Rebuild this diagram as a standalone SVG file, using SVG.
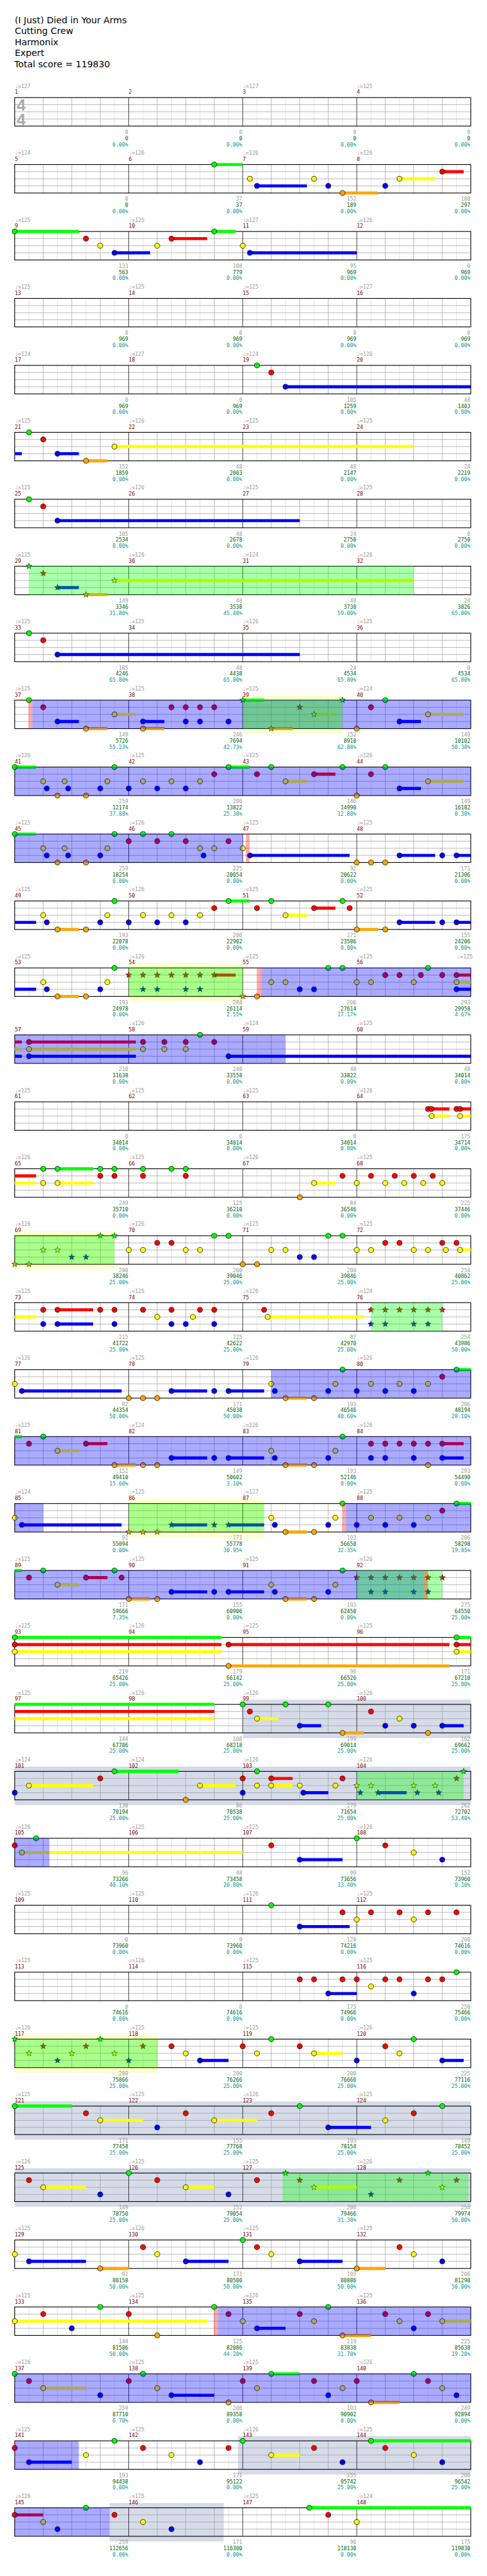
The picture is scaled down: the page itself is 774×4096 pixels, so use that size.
<svg xmlns="http://www.w3.org/2000/svg" width="774" height="4096" viewBox="0 0 774 4096">
<style>
text{font-family:"DejaVu Sans Mono",monospace;font-size:11px}
.t{fill:#999}.m{fill:#800000}
.s{fill:#999;text-anchor:end}.c{fill:#006400;text-anchor:end}.p{fill:#009999;text-anchor:end}
.ti{font-family:"DejaVu Sans",sans-serif;font-size:19px;fill:#000}
.ts{font-family:"Liberation Sans",sans-serif;font-weight:bold;font-size:34px;fill:#aaa}
.sg,.sr,.sy,.sb,.so{fill:none;stroke-width:6.5}
.sg{stroke:#0f0}.sr{stroke:#f00}.sy{stroke:#ff0}.sb{stroke:#00f}.so{stroke:#ffa500}
.od{fill:#00f;fill-opacity:.333}.sp{fill:#0f0;fill-opacity:.333}.pk{fill:#f00;fill-opacity:.333}
.yw{fill:#ffffcc}.gb{fill:#d5dbe8}
</style>
<defs>
<g id="grid">
<path fill="none" stroke="#ddd" d="M30 0V60M90 0V60M150 0V60M210 0V60M270 0V60M330 0V60M390 0V60M450 0V60M510 0V60M570 0V60M630 0V60M690 0V60M750 0V60M810 0V60M870 0V60M930 0V60"/>
<path fill="none" stroke="#a0a0a0" d="M0 15H960M0 30H960M0 45H960M60 0V60M120 0V60M180 0V60M300 0V60M360 0V60M420 0V60M540 0V60M600 0V60M660 0V60M780 0V60M840 0V60M900 0V60"/>
<path fill="none" stroke="#000" d="M240 0V60M480 0V60M720 0V60"/>
<rect width="960" height="60" fill="none" stroke="#000" stroke-width="1.5"/>
</g>
<circle id="G" r="5.3" cy="0" fill="#0f0" stroke="#000"/>
<circle id="R" r="5.3" cy="15" fill="#f00" stroke="#000"/>
<circle id="Y" r="5.3" cy="30" fill="#ff0" stroke="#000"/>
<circle id="B" r="5.3" cy="45" fill="#00f" stroke="#000"/>
<circle id="O" r="5.3" cy="60" fill="#ffa500" stroke="#000"/>
<polygon id="xG" transform="translate(0,0)" fill="#0f0" stroke="#000" stroke-width="0.8" points="0,-6.5 1.59,-2.18 6.18,-2.01 2.57,0.83 3.82,5.26 0,2.7 -3.82,5.26 -2.57,0.83 -6.18,-2.01 -1.59,-2.18"/>
<polygon id="xR" transform="translate(0,15)" fill="#f00" stroke="#000" stroke-width="0.8" points="0,-6.5 1.59,-2.18 6.18,-2.01 2.57,0.83 3.82,5.26 0,2.7 -3.82,5.26 -2.57,0.83 -6.18,-2.01 -1.59,-2.18"/>
<polygon id="xY" transform="translate(0,30)" fill="#ff0" stroke="#000" stroke-width="0.8" points="0,-6.5 1.59,-2.18 6.18,-2.01 2.57,0.83 3.82,5.26 0,2.7 -3.82,5.26 -2.57,0.83 -6.18,-2.01 -1.59,-2.18"/>
<polygon id="xB" transform="translate(0,45)" fill="#00f" stroke="#000" stroke-width="0.8" points="0,-6.5 1.59,-2.18 6.18,-2.01 2.57,0.83 3.82,5.26 0,2.7 -3.82,5.26 -2.57,0.83 -6.18,-2.01 -1.59,-2.18"/>
<polygon id="xO" transform="translate(0,60)" fill="#ffa500" stroke="#000" stroke-width="0.8" points="0,-6.5 1.59,-2.18 6.18,-2.01 2.57,0.83 3.82,5.26 0,2.7 -3.82,5.26 -2.57,0.83 -6.18,-2.01 -1.59,-2.18"/>
</defs>
<rect width="774" height="4096" fill="#fff"/>
<g transform="scale(0.755)">
<g id="title">
<text class="ti" x="31" y="49.3">(I Just) Died in Your Arms</text>
<text class="ti" x="31" y="72">Cutting Crew</text>
<text class="ti" x="31" y="95">Harmonix</text>
<text class="ti" x="31" y="118.3">Expert</text>
<text class="ti" x="30" y="141.6">Total score = 119830</text>
</g>

<g id="r1" transform="translate(31,205.5)">
<use href="#grid"/>
<text class="ts" x="4" y="27.8">4</text><text class="ts" x="4" y="57.8">4</text>
<text class="t" y="-20.5"><tspan x="0">♩=127</tspan><tspan x="480">♩=127</tspan><tspan x="720">♩=125</tspan></text>
<text class="m" y="-7.5"><tspan x="0">1</tspan><tspan x="240">2</tspan><tspan x="480">3</tspan><tspan x="720">4</tspan></text>
<text class="s" y="76.5"><tspan x="239">0</tspan><tspan x="479">0</tspan><tspan x="719">0</tspan><tspan x="959">0</tspan></text>
<text class="c" y="89.5"><tspan x="239">0</tspan><tspan x="479">0</tspan><tspan x="719">0</tspan><tspan x="959">0</tspan></text>
<text class="p" y="102.5"><tspan x="239">0.00%</tspan><tspan x="479">0.00%</tspan><tspan x="719">0.00%</tspan><tspan x="959">0.00%</tspan></text>
</g>

<g id="r2" transform="translate(31,346.5)">
<use href="#grid"/>
<path class="sg" d="M420 0H480"/><path class="sb" d="M510 45H615"/><path class="so" d="M690 60H765"/><path class="sy" d="M810 30H885"/><path class="sr" d="M900 15H945"/>
<use href="#G" x="420"/><use href="#Y" x="495"/><use href="#B" x="510"/><use href="#Y" x="630"/><use href="#B" x="660"/><use href="#O" x="690"/><use href="#B" x="780"/><use href="#Y" x="810"/><use href="#R" x="900"/>
<text class="t" y="-20.5"><tspan x="0">♩=124</tspan><tspan x="240">♩=126</tspan><tspan x="480">♩=126</tspan><tspan x="720">♩=126</tspan></text>
<text class="m" y="-7.5"><tspan x="0">5</tspan><tspan x="240">6</tspan><tspan x="480">7</tspan><tspan x="720">8</tspan></text>
<text class="s" y="76.5"><tspan x="239">0</tspan><tspan x="479">37</tspan><tspan x="719">152</tspan><tspan x="959">108</tspan></text>
<text class="c" y="89.5"><tspan x="239">0</tspan><tspan x="479">37</tspan><tspan x="719">189</tspan><tspan x="959">297</tspan></text>
<text class="p" y="102.5"><tspan x="239">0.00%</tspan><tspan x="479">0.00%</tspan><tspan x="719">0.00%</tspan><tspan x="959">0.00%</tspan></text>
</g>

<g id="r3" transform="translate(31,487.5)">
<use href="#grid"/>
<path class="sg" d="M0 0H135M420 0H465"/><path class="sb" d="M210 45H285M495 45H720"/><path class="sr" d="M330 15H405"/>
<use href="#G" x="0"/><use href="#R" x="150"/><use href="#Y" x="180"/><use href="#B" x="210"/><use href="#Y" x="300"/><use href="#R" x="330"/><use href="#G" x="420"/><use href="#Y" x="480"/><use href="#B" x="495"/>
<text class="t" y="-20.5"><tspan x="0">♩=125</tspan><tspan x="240">♩=125</tspan><tspan x="480">♩=127</tspan><tspan x="720">♩=126</tspan></text>
<text class="m" y="-7.5"><tspan x="0">9</tspan><tspan x="240">10</tspan><tspan x="480">11</tspan><tspan x="720">12</tspan></text>
<text class="s" y="76.5"><tspan x="239">133</tspan><tspan x="479">108</tspan><tspan x="719">95</tspan><tspan x="959">0</tspan></text>
<text class="c" y="89.5"><tspan x="239">563</tspan><tspan x="479">779</tspan><tspan x="719">969</tspan><tspan x="959">969</tspan></text>
<text class="p" y="102.5"><tspan x="239">0.00%</tspan><tspan x="479">0.00%</tspan><tspan x="719">0.00%</tspan><tspan x="959">0.00%</tspan></text>
</g>

<g id="r4" transform="translate(31,628.5)">
<use href="#grid"/>
<text class="t" y="-20.5"><tspan x="0">♩=125</tspan><tspan x="240">♩=125</tspan><tspan x="480">♩=125</tspan><tspan x="720">♩=127</tspan></text>
<text class="m" y="-7.5"><tspan x="0">13</tspan><tspan x="240">14</tspan><tspan x="480">15</tspan><tspan x="720">16</tspan></text>
<text class="s" y="76.5"><tspan x="239">0</tspan><tspan x="479">0</tspan><tspan x="719">0</tspan><tspan x="959">0</tspan></text>
<text class="c" y="89.5"><tspan x="239">969</tspan><tspan x="479">969</tspan><tspan x="719">969</tspan><tspan x="959">969</tspan></text>
<text class="p" y="102.5"><tspan x="239">0.00%</tspan><tspan x="479">0.00%</tspan><tspan x="719">0.00%</tspan><tspan x="959">0.00%</tspan></text>
</g>

<g id="r5" transform="translate(31,769.5)">
<use href="#grid"/>
<path class="sb" d="M570 45H960"/>
<use href="#G" x="510"/><use href="#R" x="540"/><use href="#B" x="570"/>
<text class="t" y="-20.5"><tspan x="0">♩=124</tspan><tspan x="240">♩=127</tspan><tspan x="480">♩=124</tspan><tspan x="720">♩=126</tspan></text>
<text class="m" y="-7.5"><tspan x="0">17</tspan><tspan x="240">18</tspan><tspan x="480">19</tspan><tspan x="720">20</tspan></text>
<text class="s" y="76.5"><tspan x="239">0</tspan><tspan x="479">0</tspan><tspan x="719">105</tspan><tspan x="959">48</tspan></text>
<text class="c" y="89.5"><tspan x="239">969</tspan><tspan x="479">969</tspan><tspan x="719">1259</tspan><tspan x="959">1403</tspan></text>
<text class="p" y="102.5"><tspan x="239">0.00%</tspan><tspan x="479">0.00%</tspan><tspan x="719">0.00%</tspan><tspan x="959">0.00%</tspan></text>
</g>

<g id="r6" transform="translate(31,910.5)">
<use href="#grid"/>
<path class="sb" d="M0 45H15M90 45H135"/><path class="so" d="M150 60H195"/><path class="sy" d="M210 30H840"/>
<use href="#G" x="30"/><use href="#R" x="60"/><use href="#B" x="90"/><use href="#O" x="150"/><use href="#Y" x="210"/>
<text class="t" y="-20.5"><tspan x="0">♩=125</tspan><tspan x="240">♩=126</tspan><tspan x="480">♩=125</tspan><tspan x="720">♩=125</tspan></text>
<text class="m" y="-7.5"><tspan x="0">21</tspan><tspan x="240">22</tspan><tspan x="480">23</tspan><tspan x="720">24</tspan></text>
<text class="s" y="76.5"><tspan x="239">152</tspan><tspan x="479">48</tspan><tspan x="719">48</tspan><tspan x="959">24</tspan></text>
<text class="c" y="89.5"><tspan x="239">1859</tspan><tspan x="479">2003</tspan><tspan x="719">2147</tspan><tspan x="959">2219</tspan></text>
<text class="p" y="102.5"><tspan x="239">0.00%</tspan><tspan x="479">0.00%</tspan><tspan x="719">0.00%</tspan><tspan x="959">0.00%</tspan></text>
</g>

<g id="r7" transform="translate(31,1051.5)">
<use href="#grid"/>
<path class="sb" d="M90 45H600"/>
<use href="#G" x="30"/><use href="#R" x="60"/><use href="#B" x="90"/>
<text class="t" y="-20.5"><tspan x="0">♩=125</tspan><tspan x="240">♩=126</tspan><tspan x="480">♩=125</tspan><tspan x="720">♩=125</tspan></text>
<text class="m" y="-7.5"><tspan x="0">25</tspan><tspan x="240">26</tspan><tspan x="480">27</tspan><tspan x="720">28</tspan></text>
<text class="s" y="76.5"><tspan x="239">105</tspan><tspan x="479">48</tspan><tspan x="719">24</tspan><tspan x="959">0</tspan></text>
<text class="c" y="89.5"><tspan x="239">2534</tspan><tspan x="479">2678</tspan><tspan x="719">2750</tspan><tspan x="959">2750</tspan></text>
<text class="p" y="102.5"><tspan x="239">0.00%</tspan><tspan x="479">0.00%</tspan><tspan x="719">0.00%</tspan><tspan x="959">0.00%</tspan></text>
</g>

<g id="r8" transform="translate(31,1192.5)">
<use href="#grid"/>
<path class="sb" d="M90 45H135"/><path class="so" d="M150 60H195"/><path class="sy" d="M210 30H840"/>
<use href="#xG" x="30"/><use href="#xR" x="60"/><use href="#xB" x="90"/><use href="#xO" x="150"/><use href="#xY" x="210"/>
<rect class="sp" x="30" width="810" height="60"/>
<text class="t" y="-20.5"><tspan x="0">♩=125</tspan><tspan x="240">♩=126</tspan><tspan x="480">♩=124</tspan><tspan x="720">♩=126</tspan></text>
<text class="m" y="-7.5"><tspan x="0">29</tspan><tspan x="240">30</tspan><tspan x="480">31</tspan><tspan x="720">32</tspan></text>
<text class="s" y="76.5"><tspan x="239">149</tspan><tspan x="479">48</tspan><tspan x="719">48</tspan><tspan x="959">24</tspan></text>
<text class="c" y="89.5"><tspan x="239">3346</tspan><tspan x="479">3538</tspan><tspan x="719">3730</tspan><tspan x="959">3826</tspan></text>
<text class="p" y="102.5"><tspan x="239">31.80%</tspan><tspan x="479">45.40%</tspan><tspan x="719">59.00%</tspan><tspan x="959">65.80%</tspan></text>
</g>

<g id="r9" transform="translate(31,1333.5)">
<use href="#grid"/>
<path class="sb" d="M90 45H600"/>
<use href="#G" x="30"/><use href="#R" x="60"/><use href="#B" x="90"/>
<text class="t" y="-20.5"><tspan x="0">♩=125</tspan><tspan x="240">♩=125</tspan><tspan x="480">♩=126</tspan><tspan x="720">♩=125</tspan></text>
<text class="m" y="-7.5"><tspan x="0">33</tspan><tspan x="240">34</tspan><tspan x="480">35</tspan><tspan x="720">36</tspan></text>
<text class="s" y="76.5"><tspan x="239">105</tspan><tspan x="479">48</tspan><tspan x="719">24</tspan><tspan x="959">0</tspan></text>
<text class="c" y="89.5"><tspan x="239">4246</tspan><tspan x="479">4438</tspan><tspan x="719">4534</tspan><tspan x="959">4534</tspan></text>
<text class="p" y="102.5"><tspan x="239">65.80%</tspan><tspan x="479">65.80%</tspan><tspan x="719">65.80%</tspan><tspan x="959">65.80%</tspan></text>
</g>

<g id="r10" transform="translate(31,1474.5)">
<rect class="yw" x="480" y="-10" width="210" height="81"/>
<use href="#grid"/>
<path class="sb" d="M90 45H135M270 45H315M810 45H855"/><path class="so" d="M150 60H195M270 60H315M540 60H585"/><path class="sy" d="M210 30H255M630 30H675M870 30H945"/><path class="sg" d="M480 0H525"/>
<use href="#G" x="30"/><use href="#R" x="60"/><use href="#B" x="90"/><use href="#O" x="150"/><use href="#Y" x="210"/><use href="#B" x="270"/><use href="#O" x="270"/><use href="#R" x="330"/><use href="#R" x="360"/><use href="#B" x="360"/><use href="#R" x="390"/><use href="#B" x="390"/><use href="#R" x="420"/><use href="#B" x="450"/><use href="#xG" x="480"/><use href="#xO" x="540"/><use href="#xR" x="600"/><use href="#xY" x="630"/><use href="#xG" x="690"/><use href="#O" x="720"/><use href="#R" x="750"/><use href="#G" x="780"/><use href="#B" x="810"/><use href="#Y" x="870"/>
<rect class="pk" x="29" width="8" height="60"/><rect class="od" x="37" width="923" height="60"/><rect class="sp" x="480" width="210" height="60"/>
<text class="t" y="-20.5"><tspan x="0">♩=125</tspan><tspan x="240">♩=125</tspan><tspan x="480">♩=125</tspan><tspan x="720">♩=124</tspan></text>
<text class="m" y="-7.5"><tspan x="0">37</tspan><tspan x="240">38</tspan><tspan x="480">39</tspan><tspan x="720">40</tspan></text>
<text class="s" y="76.5"><tspan x="239">149</tspan><tspan x="479">246</tspan><tspan x="719">152</tspan><tspan x="959">149</tspan></text>
<text class="c" y="89.5"><tspan x="239">5726</tspan><tspan x="479">7694</tspan><tspan x="719">8910</tspan><tspan x="959">10102</tspan></text>
<text class="p" y="102.5"><tspan x="239">55.23%</tspan><tspan x="479">42.73%</tspan><tspan x="719">62.88%</tspan><tspan x="959">50.38%</tspan></text>
</g>

<g id="r11" transform="translate(31,1615.5)">
<use href="#grid"/>
<path class="sg" d="M0 0H45M450 0H495"/><path class="sy" d="M570 30H615M870 30H945"/><path class="sr" d="M630 15H675"/><path class="sb" d="M810 45H855"/>
<use href="#G" x="0"/><use href="#Y" x="60"/><use href="#B" x="67.5"/><use href="#O" x="90"/><use href="#Y" x="105"/><use href="#B" x="112.5"/><use href="#O" x="150"/><use href="#B" x="180"/><use href="#Y" x="195"/><use href="#G" x="210"/><use href="#B" x="240"/><use href="#Y" x="270"/><use href="#B" x="300"/><use href="#Y" x="330"/><use href="#B" x="360"/><use href="#Y" x="390"/><use href="#R" x="420"/><use href="#G" x="450"/><use href="#R" x="510"/><use href="#G" x="540"/><use href="#Y" x="570"/><use href="#R" x="630"/><use href="#G" x="690"/><use href="#O" x="720"/><use href="#R" x="750"/><use href="#G" x="780"/><use href="#B" x="810"/><use href="#Y" x="870"/>
<rect class="od" width="960" height="60"/>
<text class="t" y="-20.5"><tspan x="0">♩=126</tspan><tspan x="240">♩=125</tspan><tspan x="480">♩=125</tspan><tspan x="720">♩=126</tspan></text>
<text class="m" y="-7.5"><tspan x="0">41</tspan><tspan x="240">42</tspan><tspan x="480">43</tspan><tspan x="720">44</tspan></text>
<text class="s" y="76.5"><tspan x="239">259</tspan><tspan x="479">206</tspan><tspan x="719">146</tspan><tspan x="959">149</tspan></text>
<text class="c" y="89.5"><tspan x="239">12174</tspan><tspan x="479">13822</tspan><tspan x="719">14990</tspan><tspan x="959">16182</tspan></text>
<text class="p" y="102.5"><tspan x="239">37.88%</tspan><tspan x="479">25.38%</tspan><tspan x="719">12.88%</tspan><tspan x="959">0.38%</tspan></text>
</g>

<g id="r12" transform="translate(31,1756.5)">
<use href="#grid"/>
<path class="sg" d="M0 0H45"/><path class="sb" d="M495 45H705M810 45H885M930 45H960"/>
<use href="#G" x="0"/><use href="#Y" x="60"/><use href="#B" x="67.5"/><use href="#O" x="90"/><use href="#Y" x="105"/><use href="#B" x="112.5"/><use href="#O" x="150"/><use href="#B" x="180"/><use href="#Y" x="195"/><use href="#G" x="210"/><use href="#R" x="240"/><use href="#G" x="270"/><use href="#R" x="300"/><use href="#G" x="330"/><use href="#R" x="360"/><use href="#Y" x="390"/><use href="#B" x="397.5"/><use href="#Y" x="420"/><use href="#R" x="450"/><use href="#Y" x="480"/><use href="#B" x="495"/><use href="#O" x="720"/><use href="#O" x="750"/><use href="#O" x="780"/><use href="#B" x="810"/><use href="#B" x="900"/><use href="#B" x="930"/>
<rect class="od" width="480" height="60"/><rect class="pk" x="486.5" width="8" height="60"/>
<text class="t" y="-20.5"><tspan x="0">♩=125</tspan><tspan x="240">♩=126</tspan><tspan x="480">♩=125</tspan><tspan x="720">♩=125</tspan></text>
<text class="m" y="-7.5"><tspan x="0">45</tspan><tspan x="240">46</tspan><tspan x="480">47</tspan><tspan x="720">48</tspan></text>
<text class="s" y="76.5"><tspan x="239">259</tspan><tspan x="479">225</tspan><tspan x="719">92</tspan><tspan x="959">171</tspan></text>
<text class="c" y="89.5"><tspan x="239">18254</tspan><tspan x="479">20054</tspan><tspan x="719">20622</tspan><tspan x="959">21306</tspan></text>
<text class="p" y="102.5"><tspan x="239">0.00%</tspan><tspan x="479">0.00%</tspan><tspan x="719">0.00%</tspan><tspan x="959">0.00%</tspan></text>
</g>

<g id="r13" transform="translate(31,1897.5)">
<use href="#grid"/>
<path class="sb" d="M0 45H45M810 45H885M930 45H960"/><path class="so" d="M90 60H135M720 60H765"/><path class="sg" d="M450 0H495"/><path class="sy" d="M570 30H615"/><path class="sr" d="M630 15H675"/>
<use href="#Y" x="60"/><use href="#B" x="67.5"/><use href="#O" x="90"/><use href="#O" x="150"/><use href="#B" x="180"/><use href="#Y" x="195"/><use href="#G" x="210"/><use href="#B" x="240"/><use href="#Y" x="270"/><use href="#B" x="300"/><use href="#Y" x="330"/><use href="#B" x="360"/><use href="#Y" x="390"/><use href="#R" x="420"/><use href="#G" x="450"/><use href="#R" x="510"/><use href="#G" x="540"/><use href="#Y" x="570"/><use href="#R" x="630"/><use href="#G" x="690"/><use href="#R" x="705"/><use href="#O" x="720"/><use href="#O" x="780"/><use href="#B" x="810"/><use href="#B" x="900"/><use href="#B" x="930"/>
<text class="t" y="-20.5"><tspan x="0">♩=125</tspan><tspan x="240">♩=126</tspan><tspan x="480">♩=125</tspan><tspan x="720">♩=125</tspan></text>
<text class="m" y="-7.5"><tspan x="0">49</tspan><tspan x="240">50</tspan><tspan x="480">51</tspan><tspan x="720">52</tspan></text>
<text class="s" y="76.5"><tspan x="239">193</tspan><tspan x="479">206</tspan><tspan x="719">171</tspan><tspan x="959">155</tspan></text>
<text class="c" y="89.5"><tspan x="239">22078</tspan><tspan x="479">22902</tspan><tspan x="719">23586</tspan><tspan x="959">24206</tspan></text>
<text class="p" y="102.5"><tspan x="239">0.00%</tspan><tspan x="479">0.00%</tspan><tspan x="719">0.00%</tspan><tspan x="959">0.00%</tspan></text>
</g>

<g id="r14" transform="translate(31,2038.5)">
<rect class="yw" x="240" y="-10" width="240" height="81"/>
<use href="#grid"/>
<path class="sb" d="M0 45H45M930 45H960"/><path class="so" d="M90 60H135"/><path class="sr" d="M420 15H465M930 15H960"/><path class="sy" d="M930 30H960"/>
<use href="#Y" x="60"/><use href="#B" x="67.5"/><use href="#O" x="90"/><use href="#O" x="150"/><use href="#B" x="180"/><use href="#Y" x="195"/><use href="#G" x="210"/><use href="#xR" x="240"/><use href="#xR" x="270"/><use href="#xB" x="270"/><use href="#xR" x="300"/><use href="#xB" x="300"/><use href="#xR" x="330"/><use href="#xR" x="360"/><use href="#xB" x="360"/><use href="#xR" x="390"/><use href="#xB" x="390"/><use href="#xR" x="420"/><use href="#xO" x="480"/><use href="#O" x="510"/><use href="#Y" x="540"/><use href="#Y" x="570"/><use href="#B" x="600"/><use href="#B" x="630"/><use href="#G" x="660"/><use href="#G" x="690"/><use href="#Y" x="720"/><use href="#Y" x="750"/><use href="#R" x="780"/><use href="#R" x="810"/><use href="#Y" x="840"/><use href="#R" x="855"/><use href="#G" x="870"/><use href="#R" x="900"/><use href="#R" x="930"/><use href="#Y" x="930"/><use href="#B" x="930"/>
<rect class="sp" x="240" width="240" height="60"/><rect class="pk" x="510" width="9" height="60"/><rect class="od" x="519" width="441" height="60"/>
<text class="t" y="-20.5"><tspan x="0">♩=125</tspan><tspan x="240">♩=126</tspan><tspan x="480">♩=125</tspan><tspan x="720">♩=125</tspan><tspan x="931">♩=125</tspan></text>
<text class="m" y="-7.5"><tspan x="0">53</tspan><tspan x="240">54</tspan><tspan x="480">55</tspan><tspan x="720">56</tspan></text>
<text class="s" y="76.5"><tspan x="239">193</tspan><tspan x="479">284</tspan><tspan x="719">200</tspan><tspan x="959">293</tspan></text>
<text class="c" y="89.5"><tspan x="239">24978</tspan><tspan x="479">26114</tspan><tspan x="719">27614</tspan><tspan x="959">29958</tspan></text>
<text class="p" y="102.5"><tspan x="239">0.00%</tspan><tspan x="479">2.55%</tspan><tspan x="719">17.17%</tspan><tspan x="959">4.67%</tspan></text>
</g>

<g id="r15" transform="translate(31,2179.5)">
<use href="#grid"/>
<path class="sr" d="M0 15H15M30 15H255"/><path class="sy" d="M0 30H15M30 30H255"/><path class="sb" d="M0 45H15M30 45H255M450 45H960"/>
<use href="#R" x="30"/><use href="#Y" x="30"/><use href="#B" x="30"/><use href="#R" x="270"/><use href="#Y" x="270"/><use href="#R" x="315"/><use href="#Y" x="315"/><use href="#R" x="360"/><use href="#Y" x="360"/><use href="#G" x="390"/><use href="#R" x="420"/><use href="#B" x="450"/>
<rect class="od" width="570" height="60"/>
<text class="t" y="-20.5"><tspan x="240">♩=126</tspan><tspan x="480">♩=124</tspan><tspan x="720">♩=125</tspan></text>
<text class="m" y="-7.5"><tspan x="0">57</tspan><tspan x="240">58</tspan><tspan x="480">59</tspan><tspan x="720">60</tspan></text>
<text class="s" y="76.5"><tspan x="239">210</tspan><tspan x="479">240</tspan><tspan x="719">48</tspan><tspan x="959">48</tspan></text>
<text class="c" y="89.5"><tspan x="239">31638</tspan><tspan x="479">33558</tspan><tspan x="719">33822</tspan><tspan x="959">34014</tspan></text>
<text class="p" y="102.5"><tspan x="239">0.00%</tspan><tspan x="479">0.00%</tspan><tspan x="719">0.00%</tspan><tspan x="959">0.00%</tspan></text>
</g>

<g id="r16" transform="translate(31,2320.5)">
<use href="#grid"/>
<path class="sr" d="M877.5 15H915M937.5 15H960"/><path class="sy" d="M877.5 30H915M937.5 30H960"/>
<use href="#R" x="870"/><use href="#R" x="877.5"/><use href="#Y" x="877.5"/><use href="#R" x="930"/><use href="#R" x="937.5"/><use href="#Y" x="937.5"/>
<text class="t" y="-20.5"><tspan x="0">♩=125</tspan><tspan x="240">♩=125</tspan><tspan x="480">♩=125</tspan><tspan x="720">♩=126</tspan></text>
<text class="m" y="-7.5"><tspan x="0">61</tspan><tspan x="240">62</tspan><tspan x="480">63</tspan><tspan x="720">64</tspan></text>
<text class="s" y="76.5"><tspan x="239">0</tspan><tspan x="479">0</tspan><tspan x="719">0</tspan><tspan x="959">175</tspan></text>
<text class="c" y="89.5"><tspan x="239">34014</tspan><tspan x="479">34014</tspan><tspan x="719">34014</tspan><tspan x="959">34714</tspan></text>
<text class="p" y="102.5"><tspan x="239">0.00%</tspan><tspan x="479">0.00%</tspan><tspan x="719">0.00%</tspan><tspan x="959">0.00%</tspan></text>
</g>

<g id="r17" transform="translate(31,2461.5)">
<use href="#grid"/>
<path class="sr" d="M0 15H45"/><path class="sy" d="M0 30H45M90 30H165M630 30H675"/><path class="sg" d="M90 0H165"/>
<use href="#G" x="60"/><use href="#Y" x="60"/><use href="#G" x="90"/><use href="#Y" x="90"/><use href="#G" x="180"/><use href="#R" x="180"/><use href="#G" x="210"/><use href="#R" x="210"/><use href="#G" x="270"/><use href="#R" x="270"/><use href="#G" x="330"/><use href="#G" x="360"/><use href="#R" x="360"/><use href="#O" x="600"/><use href="#Y" x="630"/><use href="#R" x="690"/><use href="#Y" x="720"/><use href="#R" x="750"/><use href="#Y" x="780"/><use href="#R" x="800"/><use href="#Y" x="820"/><use href="#R" x="840"/><use href="#Y" x="860"/><use href="#R" x="880"/><use href="#Y" x="900"/>
<text class="t" y="-20.5"><tspan x="0">♩=126</tspan><tspan x="240">♩=125</tspan><tspan x="480">♩=126</tspan><tspan x="720">♩=125</tspan></text>
<text class="m" y="-7.5"><tspan x="0">65</tspan><tspan x="240">66</tspan><tspan x="480">67</tspan><tspan x="720">68</tspan></text>
<text class="s" y="76.5"><tspan x="239">249</tspan><tspan x="479">125</tspan><tspan x="719">84</tspan><tspan x="959">225</tspan></text>
<text class="c" y="89.5"><tspan x="239">35710</tspan><tspan x="479">36210</tspan><tspan x="719">36546</tspan><tspan x="959">37446</tspan></text>
<text class="p" y="102.5"><tspan x="239">0.00%</tspan><tspan x="479">0.00%</tspan><tspan x="719">0.00%</tspan><tspan x="959">0.00%</tspan></text>
</g>

<g id="r18" transform="translate(31,2602.5)">
<rect class="yw" x="0" y="-10" width="210" height="81"/>
<use href="#grid"/>
<path class="sy" d="M937.5 30H960"/>
<use href="#xO" x="0"/><use href="#xO" x="30"/><use href="#xY" x="60"/><use href="#xY" x="90"/><use href="#xB" x="120"/><use href="#xB" x="150"/><use href="#xG" x="180"/><use href="#xG" x="210"/><use href="#Y" x="240"/><use href="#Y" x="270"/><use href="#R" x="300"/><use href="#R" x="330"/><use href="#Y" x="360"/><use href="#Y" x="390"/><use href="#G" x="420"/><use href="#G" x="450"/><use href="#O" x="480"/><use href="#O" x="510"/><use href="#Y" x="540"/><use href="#Y" x="570"/><use href="#B" x="600"/><use href="#B" x="630"/><use href="#G" x="660"/><use href="#G" x="690"/><use href="#Y" x="720"/><use href="#Y" x="750"/><use href="#R" x="780"/><use href="#R" x="810"/><use href="#Y" x="840"/><use href="#Y" x="870"/><use href="#R" x="900"/><use href="#Y" x="907.5"/><use href="#R" x="930"/><use href="#Y" x="937.5"/>
<rect class="sp" x="0" width="210" height="60"/>
<text class="t" y="-20.5"><tspan x="0">♩=126</tspan><tspan x="240">♩=126</tspan><tspan x="480">♩=125</tspan><tspan x="720">♩=125</tspan></text>
<text class="m" y="-7.5"><tspan x="0">69</tspan><tspan x="240">70</tspan><tspan x="480">71</tspan><tspan x="720">72</tspan></text>
<text class="s" y="76.5"><tspan x="239">200</tspan><tspan x="479">200</tspan><tspan x="719">200</tspan><tspan x="959">254</tspan></text>
<text class="c" y="89.5"><tspan x="239">38246</tspan><tspan x="479">39046</tspan><tspan x="719">39846</tspan><tspan x="959">40862</tspan></text>
<text class="p" y="102.5"><tspan x="239">25.00%</tspan><tspan x="479">25.00%</tspan><tspan x="719">25.00%</tspan><tspan x="959">25.00%</tspan></text>
</g>

<g id="r19" transform="translate(31,2743.5)">
<use href="#grid"/>
<path class="sy" d="M0 30H45M532.5 30H735"/><path class="sr" d="M90 15H165"/><path class="sb" d="M90 45H165"/>
<use href="#R" x="60"/><use href="#B" x="60"/><use href="#R" x="90"/><use href="#B" x="90"/><use href="#R" x="180"/><use href="#R" x="210"/><use href="#B" x="210"/><use href="#R" x="270"/><use href="#Y" x="300"/><use href="#R" x="330"/><use href="#B" x="330"/><use href="#B" x="360"/><use href="#Y" x="375"/><use href="#R" x="390"/><use href="#R" x="420"/><use href="#B" x="420"/><use href="#R" x="525"/><use href="#Y" x="532.5"/><use href="#xR" x="750"/><use href="#xB" x="750"/><use href="#xR" x="780"/><use href="#xB" x="780"/><use href="#xR" x="810"/><use href="#xR" x="840"/><use href="#xB" x="840"/><use href="#xR" x="870"/><use href="#xB" x="870"/><use href="#xR" x="900"/>
<rect class="sp" x="750" width="150" height="60"/>
<text class="t" y="-20.5"><tspan x="0">♩=125</tspan><tspan x="240">♩=125</tspan><tspan x="480">♩=126</tspan><tspan x="720">♩=124</tspan></text>
<text class="m" y="-7.5"><tspan x="0">73</tspan><tspan x="240">74</tspan><tspan x="480">75</tspan><tspan x="720">76</tspan></text>
<text class="s" y="76.5"><tspan x="239">215</tspan><tspan x="479">225</tspan><tspan x="719">87</tspan><tspan x="959">254</tspan></text>
<text class="c" y="89.5"><tspan x="239">41722</tspan><tspan x="479">42622</tspan><tspan x="719">42970</tspan><tspan x="959">43986</tspan></text>
<text class="p" y="102.5"><tspan x="239">25.00%</tspan><tspan x="479">25.00%</tspan><tspan x="719">25.00%</tspan><tspan x="959">50.00%</tspan></text>
</g>

<g id="r20" transform="translate(31,2884.5)">
<use href="#grid"/>
<path class="sb" d="M15 45H225M330 45H405M450 45H525"/><path class="so" d="M570 60H615"/><path class="sg" d="M930 0H960"/>
<use href="#Y" x="0"/><use href="#B" x="15"/><use href="#O" x="240"/><use href="#O" x="270"/><use href="#O" x="300"/><use href="#B" x="330"/><use href="#B" x="420"/><use href="#B" x="450"/><use href="#Y" x="540"/><use href="#B" x="547.5"/><use href="#O" x="570"/><use href="#O" x="630"/><use href="#B" x="660"/><use href="#Y" x="675"/><use href="#G" x="690"/><use href="#B" x="720"/><use href="#Y" x="750"/><use href="#B" x="780"/><use href="#Y" x="810"/><use href="#B" x="840"/><use href="#Y" x="870"/><use href="#R" x="900"/><use href="#G" x="930"/>
<rect class="od" x="540" width="420" height="60"/>
<text class="t" y="-20.5"><tspan x="0">♩=126</tspan><tspan x="240">♩=125</tspan><tspan x="480">♩=126</tspan><tspan x="720">♩=126</tspan></text>
<text class="m" y="-7.5"><tspan x="0">77</tspan><tspan x="240">78</tspan><tspan x="480">79</tspan><tspan x="720">80</tspan></text>
<text class="s" y="76.5"><tspan x="239">92</tspan><tspan x="479">171</tspan><tspan x="719">193</tspan><tspan x="959">206</tspan></text>
<text class="c" y="89.5"><tspan x="239">44354</tspan><tspan x="479">45038</tspan><tspan x="719">46546</tspan><tspan x="959">48194</tspan></text>
<text class="p" y="102.5"><tspan x="239">50.00%</tspan><tspan x="479">50.00%</tspan><tspan x="719">40.60%</tspan><tspan x="959">28.10%</tspan></text>
</g>

<g id="r21" transform="translate(31,3025.5)">
<use href="#grid"/>
<path class="sg" d="M0 0H15"/><path class="sy" d="M90 30H135"/><path class="sr" d="M150 15H195M900 15H945"/><path class="so" d="M210 60H255M570 60H615"/><path class="sb" d="M330 45H405M450 45H525M900 45H945"/>
<use href="#R" x="30"/><use href="#G" x="60"/><use href="#Y" x="90"/><use href="#R" x="150"/><use href="#O" x="210"/><use href="#O" x="270"/><use href="#O" x="300"/><use href="#B" x="330"/><use href="#B" x="420"/><use href="#B" x="450"/><use href="#Y" x="540"/><use href="#B" x="547.5"/><use href="#O" x="570"/><use href="#O" x="630"/><use href="#B" x="660"/><use href="#Y" x="675"/><use href="#G" x="690"/><use href="#R" x="750"/><use href="#B" x="750"/><use href="#R" x="780"/><use href="#B" x="780"/><use href="#R" x="810"/><use href="#R" x="840"/><use href="#B" x="840"/><use href="#R" x="870"/><use href="#O" x="870"/><use href="#R" x="900"/><use href="#B" x="900"/>
<rect class="od" width="960" height="60"/>
<text class="t" y="-20.5"><tspan x="0">♩=125</tspan><tspan x="240">♩=124</tspan><tspan x="480">♩=126</tspan><tspan x="720">♩=126</tspan></text>
<text class="m" y="-7.5"><tspan x="0">81</tspan><tspan x="240">82</tspan><tspan x="480">83</tspan><tspan x="720">84</tspan></text>
<text class="s" y="76.5"><tspan x="239">152</tspan><tspan x="479">149</tspan><tspan x="719">193</tspan><tspan x="959">293</tspan></text>
<text class="c" y="89.5"><tspan x="239">49410</tspan><tspan x="479">50602</tspan><tspan x="719">52146</tspan><tspan x="959">54490</tspan></text>
<text class="p" y="102.5"><tspan x="239">15.60%</tspan><tspan x="479">3.10%</tspan><tspan x="719">0.00%</tspan><tspan x="959">0.00%</tspan></text>
</g>

<g id="r22" transform="translate(31,3166.5)">
<rect class="yw" x="240" y="-10" width="285" height="81"/>
<use href="#grid"/>
<path class="sb" d="M15 45H225M330 45H405M450 45H525"/><path class="so" d="M570 60H615"/><path class="sg" d="M930 0H960"/>
<use href="#Y" x="0"/><use href="#B" x="15"/><use href="#xO" x="240"/><use href="#xO" x="270"/><use href="#xO" x="300"/><use href="#xB" x="330"/><use href="#xB" x="420"/><use href="#xB" x="450"/><use href="#Y" x="540"/><use href="#B" x="547.5"/><use href="#O" x="570"/><use href="#O" x="630"/><use href="#B" x="660"/><use href="#Y" x="675"/><use href="#G" x="690"/><use href="#B" x="720"/><use href="#Y" x="750"/><use href="#B" x="780"/><use href="#Y" x="810"/><use href="#B" x="840"/><use href="#Y" x="870"/><use href="#R" x="900"/><use href="#G" x="930"/>
<rect class="od" width="60" height="60"/><rect class="sp" x="240" width="285" height="60"/><rect class="pk" x="689.5" width="8" height="60"/><rect class="od" x="697.5" width="262.5" height="60"/>
<text class="t" y="-20.5"><tspan x="0">♩=124</tspan><tspan x="240">♩=125</tspan><tspan x="480">♩=127</tspan><tspan x="720">♩=125</tspan></text>
<text class="m" y="-7.5"><tspan x="0">85</tspan><tspan x="240">86</tspan><tspan x="480">87</tspan><tspan x="720">88</tspan></text>
<text class="s" y="76.5"><tspan x="239">92</tspan><tspan x="479">171</tspan><tspan x="719">193</tspan><tspan x="959">206</tspan></text>
<text class="c" y="89.5"><tspan x="239">55094</tspan><tspan x="479">55778</tspan><tspan x="719">56650</tspan><tspan x="959">58298</tspan></text>
<text class="p" y="102.5"><tspan x="239">0.00%</tspan><tspan x="479">30.95%</tspan><tspan x="719">32.35%</tspan><tspan x="959">19.85%</tspan></text>
</g>

<g id="r23" transform="translate(31,3307.5)">
<use href="#grid"/>
<path class="sg" d="M0 0H15"/><path class="sy" d="M90 30H135"/><path class="sr" d="M150 15H195"/><path class="so" d="M240 60H285M570 60H615"/><path class="sb" d="M330 45H405M450 45H525"/>
<use href="#R" x="30"/><use href="#G" x="60"/><use href="#Y" x="90"/><use href="#R" x="150"/><use href="#G" x="210"/><use href="#R" x="225"/><use href="#O" x="240"/><use href="#O" x="300"/><use href="#B" x="330"/><use href="#B" x="420"/><use href="#B" x="450"/><use href="#Y" x="540"/><use href="#B" x="547.5"/><use href="#O" x="570"/><use href="#O" x="630"/><use href="#B" x="660"/><use href="#Y" x="675"/><use href="#G" x="690"/><use href="#xR" x="720"/><use href="#xR" x="750"/><use href="#xB" x="750"/><use href="#xR" x="780"/><use href="#xB" x="780"/><use href="#xR" x="810"/><use href="#xR" x="840"/><use href="#xB" x="840"/><use href="#xR" x="870"/><use href="#xB" x="870"/><use href="#xR" x="900"/>
<rect class="od" width="860.5" height="60"/><rect class="sp" x="720" width="180" height="60"/><rect class="pk" x="860.5" width="9" height="60"/>
<text class="t" y="-20.5"><tspan x="0">♩=125</tspan><tspan x="240">♩=125</tspan><tspan x="480">♩=125</tspan><tspan x="720">♩=126</tspan></text>
<text class="m" y="-7.5"><tspan x="0">89</tspan><tspan x="240">90</tspan><tspan x="480">91</tspan><tspan x="720">92</tspan></text>
<text class="s" y="76.5"><tspan x="239">171</tspan><tspan x="479">155</tspan><tspan x="719">193</tspan><tspan x="959">275</tspan></text>
<text class="c" y="89.5"><tspan x="239">59666</tspan><tspan x="479">60906</tspan><tspan x="719">62450</tspan><tspan x="959">64550</tspan></text>
<text class="p" y="102.5"><tspan x="239">7.35%</tspan><tspan x="479">0.00%</tspan><tspan x="719">0.00%</tspan><tspan x="959">25.00%</tspan></text>
</g>

<g id="r24" transform="translate(31,3448.5)">
<use href="#grid"/>
<path class="sg" d="M0 0H435M930 0H960"/><path class="sr" d="M0 15H435M450 15H915M930 15H960"/><path class="sy" d="M0 30H435M930 30H960"/><path class="so" d="M450 60H915"/>
<use href="#G" x="0"/><use href="#R" x="0"/><use href="#Y" x="0"/><use href="#R" x="450"/><use href="#O" x="450"/><use href="#G" x="930"/><use href="#R" x="930"/><use href="#Y" x="930"/>
<text class="t" y="-20.5"><tspan x="0">♩=125</tspan><tspan x="240">♩=126</tspan><tspan x="480">♩=125</tspan><tspan x="720">♩=125</tspan></text>
<text class="m" y="-7.5"><tspan x="0">93</tspan><tspan x="240">94</tspan><tspan x="480">95</tspan><tspan x="720">96</tspan></text>
<text class="s" y="76.5"><tspan x="239">219</tspan><tspan x="479">179</tspan><tspan x="719">96</tspan><tspan x="959">171</tspan></text>
<text class="c" y="89.5"><tspan x="239">65426</tspan><tspan x="479">66142</tspan><tspan x="719">66526</tspan><tspan x="959">67210</tspan></text>
<text class="p" y="102.5"><tspan x="239">25.00%</tspan><tspan x="479">25.00%</tspan><tspan x="719">25.00%</tspan><tspan x="959">25.00%</tspan></text>
</g>

<g id="r25" transform="translate(31,3589.5)">
<rect class="gb" x="480" y="-10" width="480" height="81"/>
<use href="#grid"/>
<path class="sg" d="M0 0H420"/><path class="sr" d="M0 15H420"/><path class="sy" d="M0 30H420M510 30H555"/><path class="sb" d="M600 45H645M900 45H945"/><path class="so" d="M690 60H735"/>
<use href="#G" x="480"/><use href="#R" x="495"/><use href="#Y" x="510"/><use href="#G" x="570"/><use href="#B" x="600"/><use href="#G" x="660"/><use href="#O" x="690"/><use href="#R" x="750"/><use href="#B" x="780"/><use href="#Y" x="810"/><use href="#B" x="840"/><use href="#O" x="870"/><use href="#B" x="900"/>
<text class="t" y="-20.5"><tspan x="0">♩=125</tspan><tspan x="240">♩=126</tspan><tspan x="480">♩=126</tspan><tspan x="720">♩=126</tspan></text>
<text class="m" y="-7.5"><tspan x="0">97</tspan><tspan x="240">98</tspan><tspan x="480">99</tspan><tspan x="720">100</tspan></text>
<text class="s" y="76.5"><tspan x="239">144</tspan><tspan x="479">108</tspan><tspan x="719">199</tspan><tspan x="959">162</tspan></text>
<text class="c" y="89.5"><tspan x="239">67786</tspan><tspan x="479">68218</tspan><tspan x="719">69014</tspan><tspan x="959">69662</tspan></text>
<text class="p" y="102.5"><tspan x="239">25.00%</tspan><tspan x="479">25.00%</tspan><tspan x="719">25.00%</tspan><tspan x="959">25.00%</tspan></text>
</g>

<g id="r26" transform="translate(31,3730.5)">
<rect class="gb" x="0" y="-10" width="960" height="81"/>
<use href="#grid"/>
<path class="sy" d="M30 30H165M390 30H465M540 30H585"/><path class="sg" d="M210 0H345"/><path class="sr" d="M540 15H585"/><path class="sb" d="M607.5 45H660M765 45H825"/>
<use href="#B" x="0"/><use href="#Y" x="30"/><use href="#R" x="180"/><use href="#G" x="210"/><use href="#O" x="360"/><use href="#Y" x="390"/><use href="#R" x="480"/><use href="#B" x="480"/><use href="#G" x="510"/><use href="#Y" x="510"/><use href="#R" x="540"/><use href="#Y" x="540"/><use href="#Y" x="600"/><use href="#B" x="607.5"/><use href="#Y" x="675"/><use href="#R" x="690"/><use href="#xY" x="720"/><use href="#xB" x="727.5"/><use href="#xY" x="750"/><use href="#xB" x="765"/><use href="#xY" x="840"/><use href="#xB" x="847.5"/><use href="#xY" x="885"/><use href="#xB" x="892.5"/><use href="#xR" x="930"/><use href="#xG" x="945"/>
<rect class="sp" x="720" width="225" height="60"/>
<text class="t" y="-20.5"><tspan x="0">♩=124</tspan><tspan x="240">♩=124</tspan><tspan x="480">♩=126</tspan><tspan x="720">♩=126</tspan></text>
<text class="m" y="-7.5"><tspan x="0">101</tspan><tspan x="240">102</tspan><tspan x="480">103</tspan><tspan x="720">104</tspan></text>
<text class="s" y="76.5"><tspan x="239">138</tspan><tspan x="479">86</tspan><tspan x="719">279</tspan><tspan x="959">262</tspan></text>
<text class="c" y="89.5"><tspan x="239">70194</tspan><tspan x="479">70538</tspan><tspan x="719">71654</tspan><tspan x="959">72702</tspan></text>
<text class="p" y="102.5"><tspan x="239">25.00%</tspan><tspan x="479">25.00%</tspan><tspan x="719">25.00%</tspan><tspan x="959">53.40%</tspan></text>
</g>

<g id="r27" transform="translate(31,3871.5)">
<use href="#grid"/>
<path class="sy" d="M15 30H480"/><path class="sb" d="M600 45H690"/>
<use href="#R" x="0"/><use href="#Y" x="15"/><use href="#G" x="45"/><use href="#R" x="540"/><use href="#B" x="600"/><use href="#G" x="720"/><use href="#R" x="780"/><use href="#Y" x="840"/><use href="#B" x="900"/>
<rect class="od" width="73" height="60"/>
<text class="t" y="-20.5"><tspan x="0">♩=126</tspan><tspan x="240">♩=125</tspan><tspan x="480">♩=125</tspan><tspan x="720">♩=126</tspan></text>
<text class="m" y="-7.5"><tspan x="0">105</tspan><tspan x="240">106</tspan><tspan x="480">107</tspan><tspan x="720">108</tspan></text>
<text class="s" y="76.5"><tspan x="239">96</tspan><tspan x="479">48</tspan><tspan x="719">99</tspan><tspan x="959">152</tspan></text>
<text class="c" y="89.5"><tspan x="239">73266</tspan><tspan x="479">73458</tspan><tspan x="719">73656</tspan><tspan x="959">73960</tspan></text>
<text class="p" y="102.5"><tspan x="239">40.10%</tspan><tspan x="479">26.80%</tspan><tspan x="719">13.40%</tspan><tspan x="959">0.10%</tspan></text>
</g>

<g id="r28" transform="translate(31,4012.5)">
<use href="#grid"/>
<path class="sb" d="M600 45H705"/>
<use href="#G" x="540"/><use href="#B" x="600"/><use href="#R" x="690"/><use href="#R" x="750"/><use href="#R" x="810"/><use href="#R" x="870"/><use href="#R" x="930"/><use href="#Y" x="720"/><use href="#Y" x="840"/>
<text class="t" y="-20.5"><tspan x="0">♩=125</tspan><tspan x="240">♩=125</tspan><tspan x="480">♩=126</tspan><tspan x="720">♩=125</tspan></text>
<text class="m" y="-7.5"><tspan x="0">109</tspan><tspan x="240">110</tspan><tspan x="480">111</tspan><tspan x="720">112</tspan></text>
<text class="s" y="76.5"><tspan x="239">0</tspan><tspan x="479">0</tspan><tspan x="719">128</tspan><tspan x="959">200</tspan></text>
<text class="c" y="89.5"><tspan x="239">73960</tspan><tspan x="479">73960</tspan><tspan x="719">74216</tspan><tspan x="959">74616</tspan></text>
<text class="p" y="102.5"><tspan x="239">0.00%</tspan><tspan x="479">0.00%</tspan><tspan x="719">0.00%</tspan><tspan x="959">0.00%</tspan></text>
</g>

<g id="r29" transform="translate(31,4153.5)">
<use href="#grid"/>
<path class="sb" d="M660 45H720"/>
<use href="#R" x="600"/><use href="#R" x="630"/><use href="#B" x="660"/><use href="#R" x="690"/><use href="#R" x="720"/><use href="#Y" x="750"/><use href="#R" x="780"/><use href="#R" x="810"/><use href="#B" x="840"/><use href="#R" x="870"/><use href="#R" x="900"/><use href="#G" x="930"/>
<text class="t" y="-20.5"><tspan x="0">♩=125</tspan><tspan x="240">♩=126</tspan><tspan x="480">♩=125</tspan><tspan x="720">♩=125</tspan></text>
<text class="m" y="-7.5"><tspan x="0">113</tspan><tspan x="240">114</tspan><tspan x="480">115</tspan><tspan x="720">116</tspan></text>
<text class="s" y="76.5"><tspan x="239">0</tspan><tspan x="479">0</tspan><tspan x="719">175</tspan><tspan x="959">250</tspan></text>
<text class="c" y="89.5"><tspan x="239">74616</tspan><tspan x="479">74616</tspan><tspan x="719">74966</tspan><tspan x="959">75466</tspan></text>
<text class="p" y="102.5"><tspan x="239">0.00%</tspan><tspan x="479">0.00%</tspan><tspan x="719">0.00%</tspan><tspan x="959">0.00%</tspan></text>
</g>

<g id="r30" transform="translate(31,4294.5)">
<rect class="yw" x="0" y="-10" width="300" height="81"/>
<use href="#grid"/>
<path class="sb" d="M390 45H450M900 45H945"/><path class="sy" d="M630 30H690"/>
<use href="#xG" x="0"/><use href="#xY" x="30"/><use href="#xR" x="60"/><use href="#xB" x="90"/><use href="#xY" x="120"/><use href="#xR" x="150"/><use href="#xG" x="180"/><use href="#xY" x="210"/><use href="#xB" x="240"/><use href="#xR" x="270"/><use href="#R" x="330"/><use href="#Y" x="360"/><use href="#B" x="390"/><use href="#R" x="480"/><use href="#Y" x="510"/><use href="#G" x="540"/><use href="#R" x="600"/><use href="#Y" x="630"/><use href="#B" x="720"/><use href="#R" x="780"/><use href="#Y" x="810"/><use href="#G" x="840"/><use href="#B" x="900"/>
<rect class="sp" x="0" width="300" height="60"/>
<text class="t" y="-20.5"><tspan x="0">♩=126</tspan><tspan x="240">♩=125</tspan><tspan x="480">♩=125</tspan><tspan x="720">♩=126</tspan></text>
<text class="m" y="-7.5"><tspan x="0">117</tspan><tspan x="240">118</tspan><tspan x="480">119</tspan><tspan x="720">120</tspan></text>
<text class="s" y="76.5"><tspan x="239">200</tspan><tspan x="479">200</tspan><tspan x="719">200</tspan><tspan x="959">225</tspan></text>
<text class="c" y="89.5"><tspan x="239">75866</tspan><tspan x="479">76266</tspan><tspan x="719">76666</tspan><tspan x="959">77116</tspan></text>
<text class="p" y="102.5"><tspan x="239">25.00%</tspan><tspan x="479">25.00%</tspan><tspan x="719">25.00%</tspan><tspan x="959">25.00%</tspan></text>
</g>

<g id="r31" transform="translate(31,4435.5)">
<rect class="gb" x="0" y="-10" width="960" height="81"/>
<use href="#grid"/>
<path class="sg" d="M0 0H120"/><path class="sy" d="M180 30H270M420 30H510"/><path class="sb" d="M660 45H750"/>
<use href="#G" x="0"/><use href="#R" x="150"/><use href="#Y" x="180"/><use href="#B" x="300"/><use href="#R" x="360"/><use href="#Y" x="420"/><use href="#R" x="540"/><use href="#G" x="600"/><use href="#B" x="660"/><use href="#Y" x="780"/><use href="#R" x="840"/><use href="#G" x="900"/>
<text class="t" y="-20.5"><tspan x="0">♩=125</tspan><tspan x="240">♩=125</tspan><tspan x="480">♩=126</tspan><tspan x="720">♩=125</tspan></text>
<text class="m" y="-7.5"><tspan x="0">121</tspan><tspan x="240">122</tspan><tspan x="480">123</tspan><tspan x="720">124</tspan></text>
<text class="s" y="76.5"><tspan x="239">171</tspan><tspan x="479">155</tspan><tspan x="719">193</tspan><tspan x="959">149</tspan></text>
<text class="c" y="89.5"><tspan x="239">77458</tspan><tspan x="479">77768</tspan><tspan x="719">78154</tspan><tspan x="959">78452</tspan></text>
<text class="p" y="102.5"><tspan x="239">25.00%</tspan><tspan x="479">25.00%</tspan><tspan x="719">25.00%</tspan><tspan x="959">25.00%</tspan></text>
</g>

<g id="r32" transform="translate(31,4576.5)">
<rect class="gb" x="0" y="-10" width="960" height="81"/>
<use href="#grid"/>
<path class="sy" d="M60 30H150M360 30H420M630 30H720"/>
<use href="#R" x="30"/><use href="#Y" x="60"/><use href="#B" x="180"/><use href="#G" x="240"/><use href="#R" x="300"/><use href="#Y" x="360"/><use href="#B" x="450"/><use href="#R" x="510"/><use href="#xG" x="570"/><use href="#xR" x="600"/><use href="#xY" x="630"/><use href="#xB" x="750"/><use href="#xR" x="810"/><use href="#xG" x="870"/><use href="#xY" x="900"/><use href="#xR" x="930"/>
<rect class="sp" x="564" width="391" height="60"/>
<text class="t" y="-20.5"><tspan x="0">♩=126</tspan><tspan x="240">♩=125</tspan><tspan x="480">♩=125</tspan><tspan x="720">♩=126</tspan></text>
<text class="m" y="-7.5"><tspan x="0">125</tspan><tspan x="240">126</tspan><tspan x="480">127</tspan><tspan x="720">128</tspan></text>
<text class="s" y="76.5"><tspan x="239">149</tspan><tspan x="479">152</tspan><tspan x="719">206</tspan><tspan x="959">254</tspan></text>
<text class="c" y="89.5"><tspan x="239">78750</tspan><tspan x="479">79054</tspan><tspan x="719">79466</tspan><tspan x="959">79974</tspan></text>
<text class="p" y="102.5"><tspan x="239">25.00%</tspan><tspan x="479">25.00%</tspan><tspan x="719">31.30%</tspan><tspan x="959">50.00%</tspan></text>
</g>

<g id="r33" transform="translate(31,4717.5)">
<use href="#grid"/>
<path class="sb" d="M30 45H150M360 45H450M600 45H690"/><path class="so" d="M180 60H240M720 60H780"/>
<use href="#Y" x="0"/><use href="#B" x="30"/><use href="#O" x="180"/><use href="#R" x="270"/><use href="#Y" x="300"/><use href="#B" x="360"/><use href="#G" x="480"/><use href="#R" x="510"/><use href="#Y" x="540"/><use href="#B" x="600"/><use href="#O" x="720"/><use href="#R" x="810"/><use href="#Y" x="840"/><use href="#B" x="900"/>
<text class="t" y="-20.5"><tspan x="0">♩=125</tspan><tspan x="240">♩=126</tspan><tspan x="480">♩=125</tspan><tspan x="720">♩=125</tspan></text>
<text class="m" y="-7.5"><tspan x="0">129</tspan><tspan x="240">130</tspan><tspan x="480">131</tspan><tspan x="720">132</tspan></text>
<text class="s" y="76.5"><tspan x="239">92</tspan><tspan x="479">171</tspan><tspan x="719">193</tspan><tspan x="959">206</tspan></text>
<text class="c" y="89.5"><tspan x="239">80158</tspan><tspan x="479">80500</tspan><tspan x="719">80886</tspan><tspan x="959">81298</tspan></text>
<text class="p" y="102.5"><tspan x="239">50.00%</tspan><tspan x="479">50.00%</tspan><tspan x="719">50.00%</tspan><tspan x="959">50.00%</tspan></text>
</g>

<g id="r34" transform="translate(31,4858.5)">
<use href="#grid"/>
<path class="sy" d="M0 30H405M900 30H960"/><path class="sb" d="M510 45H570"/><path class="so" d="M690 60H750"/>
<use href="#Y" x="0"/><use href="#R" x="60"/><use href="#B" x="120"/><use href="#G" x="180"/><use href="#R" x="240"/><use href="#O" x="300"/><use href="#G" x="420"/><use href="#R" x="450"/><use href="#Y" x="480"/><use href="#B" x="510"/><use href="#R" x="600"/><use href="#Y" x="630"/><use href="#G" x="660"/><use href="#O" x="690"/><use href="#R" x="780"/><use href="#Y" x="810"/><use href="#B" x="840"/><use href="#R" x="870"/><use href="#Y" x="900"/>
<rect class="pk" x="419" width="9" height="60"/><rect class="od" x="428" width="532" height="60"/>
<text class="t" y="-20.5"><tspan x="0">♩=125</tspan><tspan x="240">♩=125</tspan><tspan x="480">♩=126</tspan><tspan x="720">♩=125</tspan></text>
<text class="m" y="-7.5"><tspan x="0">133</tspan><tspan x="240">134</tspan><tspan x="480">135</tspan><tspan x="720">136</tspan></text>
<text class="s" y="76.5"><tspan x="239">144</tspan><tspan x="479">125</tspan><tspan x="719">219</tspan><tspan x="959">225</tspan></text>
<text class="c" y="89.5"><tspan x="239">81586</tspan><tspan x="479">82086</tspan><tspan x="719">83838</tspan><tspan x="959">85638</tspan></text>
<text class="p" y="102.5"><tspan x="239">50.00%</tspan><tspan x="479">44.20%</tspan><tspan x="719">31.70%</tspan><tspan x="959">19.20%</tspan></text>
</g>

<g id="r35" transform="translate(31,4999.5)">
<use href="#grid"/>
<path class="sy" d="M60 30H150"/><path class="sb" d="M330 45H420"/><path class="sg" d="M540 0H600"/><path class="so" d="M750 60H810"/>
<use href="#G" x="0"/><use href="#R" x="30"/><use href="#Y" x="60"/><use href="#B" x="180"/><use href="#R" x="240"/><use href="#G" x="270"/><use href="#Y" x="300"/><use href="#B" x="330"/><use href="#O" x="450"/><use href="#R" x="480"/><use href="#Y" x="510"/><use href="#G" x="540"/><use href="#R" x="630"/><use href="#B" x="660"/><use href="#Y" x="690"/><use href="#R" x="720"/><use href="#O" x="750"/><use href="#G" x="840"/><use href="#R" x="870"/><use href="#Y" x="900"/><use href="#B" x="930"/>
<rect class="od" width="960" height="60"/>
<text class="t" y="-20.5"><tspan x="0">♩=126</tspan><tspan x="240">♩=125</tspan><tspan x="480">♩=125</tspan><tspan x="720">♩=126</tspan></text>
<text class="m" y="-7.5"><tspan x="0">137</tspan><tspan x="240">138</tspan><tspan x="480">139</tspan><tspan x="720">140</tspan></text>
<text class="s" y="76.5"><tspan x="239">259</tspan><tspan x="479">206</tspan><tspan x="719">193</tspan><tspan x="959">249</tspan></text>
<text class="c" y="89.5"><tspan x="239">87710</tspan><tspan x="479">89358</tspan><tspan x="719">90902</tspan><tspan x="959">92894</tspan></text>
<text class="p" y="102.5"><tspan x="239">6.70%</tspan><tspan x="479">0.00%</tspan><tspan x="719">0.00%</tspan><tspan x="959">0.00%</tspan></text>
</g>

<g id="r36" transform="translate(31,5140.5)">
<rect class="gb" x="470" y="-10" width="490" height="81"/>
<use href="#grid"/>
<path class="sb" d="M30 45H120"/><path class="sy" d="M540 30H600"/><path class="sg" d="M750 0H960"/>
<use href="#R" x="0"/><use href="#B" x="30"/><use href="#Y" x="150"/><use href="#G" x="210"/><use href="#R" x="270"/><use href="#Y" x="330"/><use href="#B" x="390"/><use href="#R" x="450"/><use href="#G" x="480"/><use href="#Y" x="540"/><use href="#R" x="630"/><use href="#B" x="690"/><use href="#G" x="750"/><use href="#R" x="780"/><use href="#Y" x="840"/><use href="#B" x="900"/>
<rect class="od" width="135" height="60"/>
<text class="t" y="-20.5"><tspan x="0">♩=125</tspan><tspan x="240">♩=125</tspan><tspan x="480">♩=126</tspan><tspan x="720">♩=125</tspan></text>
<text class="m" y="-7.5"><tspan x="0">141</tspan><tspan x="240">142</tspan><tspan x="480">143</tspan><tspan x="720">144</tspan></text>
<text class="s" y="76.5"><tspan x="239">193</tspan><tspan x="479">171</tspan><tspan x="719">155</tspan><tspan x="959">200</tspan></text>
<text class="c" y="89.5"><tspan x="239">94438</tspan><tspan x="479">95122</tspan><tspan x="719">95742</tspan><tspan x="959">96542</tspan></text>
<text class="p" y="102.5"><tspan x="239">0.00%</tspan><tspan x="479">0.00%</tspan><tspan x="719">25.00%</tspan><tspan x="959">25.00%</tspan></text>
</g>

<g id="r37" transform="translate(31,5281.5)">
<rect class="gb" x="200" y="-10" width="240" height="81"/>
<use href="#grid"/>
<path class="sr" d="M0 15H60"/><path class="sg" d="M620 0H960"/>
<use href="#R" x="0"/><use href="#Y" x="60"/><use href="#B" x="90"/><use href="#G" x="150"/><use href="#R" x="210"/><use href="#Y" x="270"/><use href="#B" x="330"/><use href="#G" x="620"/><use href="#R" x="660"/><use href="#Y" x="720"/>
<rect class="od" width="200" height="60"/>
<text class="t" y="-20.5"><tspan x="0">♩=126</tspan><tspan x="240">♩=125</tspan><tspan x="480">♩=125</tspan><tspan x="720">♩=124</tspan></text>
<text class="m" y="-7.5"><tspan x="0">145</tspan><tspan x="240">146</tspan><tspan x="480">147</tspan><tspan x="720">148</tspan></text>
<text class="s" y="76.5"><tspan x="239">259</tspan><tspan x="479">171</tspan><tspan x="719">96</tspan><tspan x="959">175</tspan></text>
<text class="c" y="89.5"><tspan x="239">112656</tspan><tspan x="479">116300</tspan><tspan x="719">118130</tspan><tspan x="959">119830</tspan></text>
<text class="p" y="102.5"><tspan x="239">0.00%</tspan><tspan x="479">0.00%</tspan><tspan x="719">0.00%</tspan><tspan x="959">0.00%</tspan></text>
</g>
</g>
</svg>
